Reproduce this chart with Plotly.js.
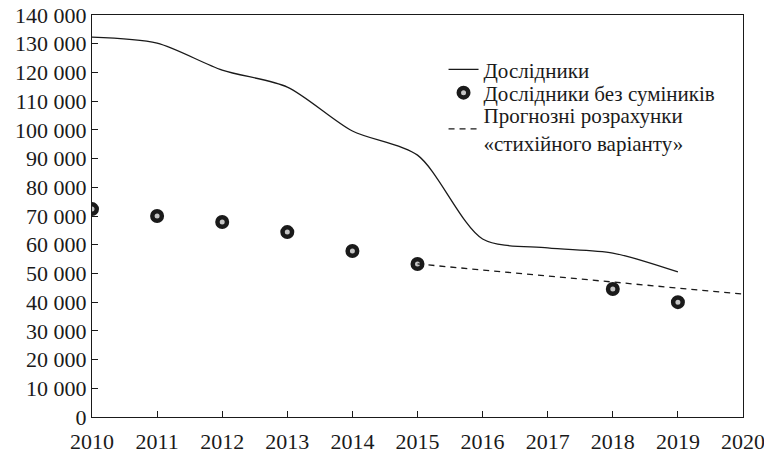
<!DOCTYPE html>
<html>
<head>
<meta charset="utf-8">
<script src="https://cdn.plot.ly/plotly-3.0.1.min.js"></script>
<style>html,body{margin:0;padding:0;background:#fff;}#chart{width:764px;height:453px;}</style>
</head>
<body>
<div id="chart"></div>
<script>
// Data
const years = [2010, 2011, 2012, 2013, 2014, 2015, 2016, 2017, 2018, 2019];
const researchers = [132300, 130200, 120800, 114900, 99600, 91200, 62000, 58900, 57100, 50500];

const yearsNoPart = [2010, 2011, 2012, 2013, 2014, 2015, 2018, 2019];
const researchersNoPart = [72400, 70000, 67900, 64400, 57800, 53300, 44600, 40000];

const forecastYears = [2015, 2020];
const forecastValues = [53300, 42800];

const names = ['Дослідники', 'Дослідники без суміників', 'Прогнозні розрахунки<br>«стихійного варіанту»'];
const xTicks = [2010, 2011, 2012, 2013, 2014, 2015, 2016, 2017, 2018, 2019, 2020];
const yTicks = [0, 10000, 20000, 30000, 40000, 50000, 60000, 70000, 80000, 90000, 100000, 110000, 120000, 130000, 140000];

const font = 'Liberation Serif, Times New Roman, serif';
const ink = '#1a1a1a';

const traces = [
  {x: years, y: researchers, name: names[0], mode: 'lines', type: 'scatter', legend: 'legend',
   line: {color: ink, width: 1.3, shape: 'spline', smoothing: 0.8}},
  {x: yearsNoPart, y: researchersNoPart, name: names[1], mode: 'markers', type: 'scatter', legend: 'legend2',
   marker: {symbol: 'circle', size: 9.5, color: '#c4c4c4', line: {color: ink, width: 4.5}}},
  {x: forecastYears, y: forecastValues, name: names[2], mode: 'lines', type: 'scatter', legend: 'legend3',
   line: {color: ink, width: 1.3, dash: '6px,5px'}}
];

function legendAt(y) {
  return {x: 0.54, y: y, xanchor: 'left', yanchor: 'top', bgcolor: 'rgba(0,0,0,0)',
          font: {family: font, size: 21, color: ink}, itemwidth: 30};
}

const layout = {
  width: 764, height: 453,
  margin: {l: 92, r: 21, t: 15, b: 36},
  paper_bgcolor: '#fff', plot_bgcolor: '#fff',
  font: {family: font, size: 22, color: ink},
  separators: '. ',
  showlegend: true,
  legend: legendAt(0.915),
  legend2: legendAt(0.857),
  legend3: legendAt(0.801),
  xaxis: {range: [2010, 2020], tickvals: xTicks, tickformat: 'd', ticks: 'inside', ticklen: 6,
          tickcolor: ink, showgrid: false, zeroline: false, showline: true, linecolor: ink,
          linewidth: 1.2, mirror: true, tickfont: {family: font, size: 22}, ticklabelstandoff: 4,
          ticklabeloverflow: 'allow', automargin: false},
  yaxis: {range: [0, 140000], tickvals: yTicks, tickformat: ',d', ticks: 'inside', ticklen: 6,
          tickcolor: ink, showgrid: false, zeroline: false, showline: true, linecolor: ink,
          linewidth: 1.2, mirror: true, tickfont: {family: font, size: 22}, automargin: false}
};

Plotly.newPlot('chart', traces, layout, {displayModeBar: false, staticPlot: true});
</script>
</body>
</html>
